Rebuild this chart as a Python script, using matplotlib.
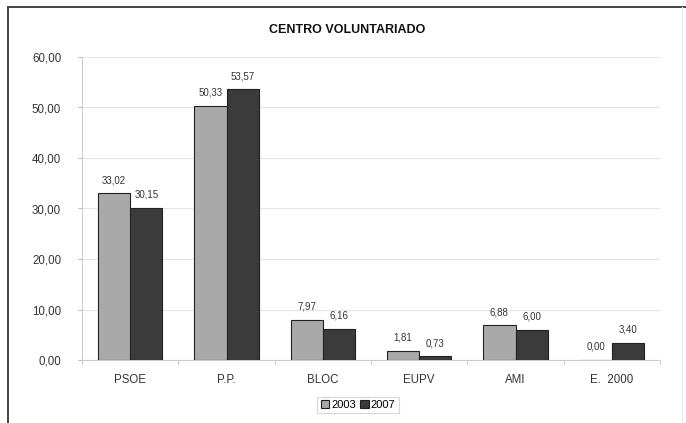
import matplotlib
matplotlib.use("Agg")
import matplotlib.pyplot as plt
import matplotlib.lines as mlines
import numpy as np

plt.rcParams['font.family'] = ['Liberation Sans', 'DejaVu Sans']

parties = ['PSOE', 'P.P.', 'BLOC', 'EUPV', 'AMI', 'E.  2000']
v2003 = [33.02, 50.33, 7.97, 1.81, 6.88, 0.00]
v2007 = [30.15, 53.57, 6.16, 0.73, 6.00, 3.40]
years = ['2003', '2007']
yticks = [0, 10, 20, 30, 40, 50, 60]

fig = plt.figure(figsize=(6.86, 4.23), dpi=100)
# outer frame: only top and left edges are visible in the original
fig.lines.append(mlines.Line2D([8 / 686, 1.0], [1 - 7 / 423] * 2, transform=fig.transFigure,
                               color='#444444', linewidth=1.4))
fig.lines.append(mlines.Line2D([8 / 686] * 2, [0, 1 - 7 / 423], transform=fig.transFigure,
                               color='#444444', linewidth=1.4))
fig.lines.append(mlines.Line2D([682 / 686] * 2, [0, 1 - 7 / 423], transform=fig.transFigure,
                               color='#eeeeee', linewidth=0.8))

ax = fig.add_axes([82 / 686, 1 - 360 / 423, 578 / 686, 303 / 423])
x = np.arange(len(parties))
w = 0.335
b1 = ax.bar(x - w / 2, v2003, w, color='#a9a9a9', edgecolor='#222222', linewidth=0.8, label=years[0], zorder=3)
b2 = ax.bar(x + w / 2, v2007, w, color='#3b3b3b', edgecolor='#222222', linewidth=0.8, label=years[1], zorder=3)

def fmt(v):
    return f'{v:.2f}'.replace('.', ',')

for bars, vals in ((b1, v2003), (b2, v2007)):
    for r, v in zip(bars, vals):
        ax.text(r.get_x() + r.get_width() / 2, v + 1.6, fmt(v), ha='center', va='bottom',
                fontsize=7, color='#333333')

ax.set_xlim(-0.5, len(parties) - 0.5)
ax.set_ylim(0, 60)
ax.set_yticks(yticks)
ax.set_yticklabels([fmt(t) for t in yticks], fontsize=8.3, color='#333333')
ax.set_xticks(x)
ax.set_xticklabels(parties, fontsize=8.3, color='#333333')
ax.tick_params(axis='x', length=0, pad=10)
ax.tick_params(axis='y', length=3, color='#bbbbbb', pad=12)
ax.set_xticks(np.arange(len(parties) + 1) - 0.5, minor=True)
ax.tick_params(axis='x', which='minor', length=3, color='#bbbbbb')
ax.yaxis.grid(True, color='#e6e6e6', linewidth=0.8, zorder=0)
for s in ['top', 'right']:
    ax.spines[s].set_visible(False)
ax.spines['left'].set_color('#cccccc')
ax.spines['bottom'].set_color('#cccccc')

fig.text(0.5 + 4 / 686, 1 - 30 / 423, 'CENTRO VOLUNTARIADO', ha='center', va='center',
         fontsize=9, fontweight='bold', color='#111111')

leg = fig.legend(handles=[b1, b2], labels=years, loc='center', bbox_to_anchor=(358 / 686, 1 - 405 / 423),
                 ncol=2, fontsize=8, frameon=True, handlelength=0.8, handleheight=0.8,
                 handletextpad=0.2, columnspacing=0.3, borderpad=0.3, fancybox=False)
leg.get_frame().set_edgecolor('#cccccc')
leg.get_frame().set_linewidth(0.8)

fig.savefig('out.png', dpi=100)
